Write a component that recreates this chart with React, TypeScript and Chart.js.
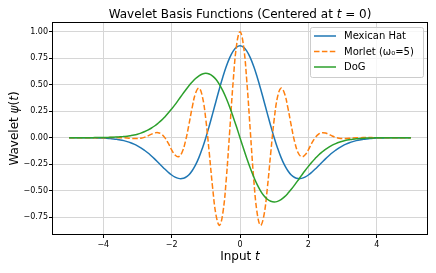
import React, { useEffect, useRef } from "react";
import { Chart, registerables } from "chart.js";

Chart.register(...registerables);

const tValues = [
  -5.0, -4.9, -4.8, -4.7, -4.6, -4.5, -4.4, -4.3, -4.2, -4.1,
  -4.0, -3.9, -3.8, -3.7, -3.6, -3.5, -3.4, -3.3, -3.2, -3.1,
  -3.0, -2.9, -2.8, -2.7, -2.6, -2.5, -2.4, -2.3, -2.2, -2.1,
  -2.0, -1.9, -1.8, -1.7, -1.6, -1.5, -1.4, -1.3, -1.2, -1.1,
  -1.0, -0.9, -0.8, -0.7, -0.6, -0.5, -0.4, -0.3, -0.2, -0.1,
  0.0,
  0.1, 0.2, 0.3, 0.4, 0.5, 0.6, 0.7, 0.8, 0.9, 1.0,
  1.1, 1.2, 1.3, 1.4, 1.5, 1.6, 1.7, 1.8, 1.9, 2.0,
  2.1, 2.2, 2.3, 2.4, 2.5, 2.6, 2.7, 2.8, 2.9, 3.0,
  3.1, 3.2, 3.3, 3.4, 3.5, 3.6, 3.7, 3.8, 3.9, 4.0,
  4.1, 4.2, 4.3, 4.4, 4.5, 4.6, 4.7, 4.8, 4.9, 5.0,
];

const mexicanHat = [
  0, 0, 0, 0, 0, -0.001, -0.001, -0.001, -0.002, -0.003,
  -0.004, -0.006, -0.009, -0.012, -0.016, -0.021, -0.028, -0.037, -0.048, -0.061,
  -0.077, -0.096, -0.118, -0.142, -0.170, -0.200, -0.232, -0.264, -0.296, -0.326,
  -0.352, -0.372, -0.384, -0.386, -0.376, -0.352, -0.312, -0.257, -0.186, -0.099,
  0, 0.110, 0.227, 0.346, 0.464, 0.574, 0.673, 0.755, 0.816, 0.854,
  0.867,
  0.854, 0.816, 0.755, 0.673, 0.574, 0.464, 0.346, 0.227, 0.110, 0,
  -0.099, -0.186, -0.257, -0.312, -0.352, -0.376, -0.386, -0.384, -0.372, -0.352,
  -0.326, -0.296, -0.264, -0.232, -0.200, -0.170, -0.142, -0.118, -0.096, -0.077,
  -0.061, -0.048, -0.037, -0.028, -0.021, -0.016, -0.012, -0.009, -0.006, -0.004,
  -0.003, -0.002, -0.001, -0.001, -0.001, 0, 0, 0, 0, 0,
];

const morlet = [
  0, 0, 0, 0, 0, 0, 0, 0, 0, 0,
  0, 0, 0.001, 0.001, 0.001, 0.000, -0.001, -0.003, -0.006, -0.008,
  -0.008, -0.005, 0.003, 0.016, 0.031, 0.044, 0.047, 0.034, 0.000, -0.052,
  -0.114, -0.164, -0.180, -0.142, -0.040, 0.113, 0.283, 0.420, 0.467, 0.387,
  0.172, -0.141, -0.475, -0.733, -0.827, -0.707, -0.384, 0.068, 0.530, 0.873,
  1.0,
  0.873, 0.530, 0.068, -0.384, -0.707, -0.827, -0.733, -0.475, -0.141, 0.172,
  0.387, 0.467, 0.420, 0.283, 0.113, -0.040, -0.142, -0.180, -0.164, -0.114,
  -0.052, 0.000, 0.034, 0.047, 0.044, 0.031, 0.016, 0.003, -0.005, -0.008,
  -0.008, -0.006, -0.003, -0.001, 0.000, 0.001, 0.001, 0.001, 0, 0,
  0, 0, 0, 0, 0, 0, 0, 0, 0, 0,
];

const dog = [
  0, 0, 0, 0, 0, 0, 0, 0, 0.001, 0.001,
  0.001, 0.002, 0.003, 0.004, 0.006, 0.008, 0.011, 0.014, 0.019, 0.025,
  0.033, 0.043, 0.056, 0.071, 0.089, 0.110, 0.135, 0.163, 0.196, 0.232,
  0.271, 0.312, 0.356, 0.401, 0.445, 0.487, 0.525, 0.558, 0.584, 0.601,
  0.607, 0.600, 0.581, 0.548, 0.501, 0.441, 0.369, 0.287, 0.196, 0.100,
  0,
  -0.100, -0.196, -0.287, -0.369, -0.441, -0.501, -0.548, -0.581, -0.600, -0.607,
  -0.601, -0.584, -0.558, -0.525, -0.487, -0.445, -0.401, -0.356, -0.312, -0.271,
  -0.232, -0.196, -0.163, -0.135, -0.110, -0.089, -0.071, -0.056, -0.043, -0.033,
  -0.025, -0.019, -0.014, -0.011, -0.008, -0.006, -0.004, -0.003, -0.002, -0.001,
  -0.001, -0.001, 0, 0, 0, 0, 0, 0, 0, 0,
];

const xTicks = [-4, -2, 0, 2, 4];
const yTicks = [-0.75, -0.5, -0.25, 0, 0.25, 0.5, 0.75, 1.0];

const seriesNames = ["Mexican Hat", "Morlet (ω₀=5)", "DoG"];
const seriesColors = ["#1f77b4", "#ff7f0e", "#2ca02c"];

const FONT = '"DejaVu Sans", sans-serif';

type Seg = [string, boolean];

function drawRich(ctx: CanvasRenderingContext2D, segs: Seg[], size: number) {
  // draws centered at (0,0), alphabetic baseline offset handled by caller
  let total = 0;
  const widths: number[] = [];
  for (const [txt, it] of segs) {
    ctx.font = `${it ? "oblique " : ""}${size}px ${FONT}`;
    const w = ctx.measureText(txt).width;
    widths.push(w);
    total += w;
  }
  let x = -total / 2;
  segs.forEach(([txt, it], i) => {
    ctx.font = `${it ? "oblique " : ""}${size}px ${FONT}`;
    ctx.fillText(txt, x, 0);
    x += widths[i];
  });
}

const decorPlugin = {
  id: "decor",
  afterDraw(chart: any) {
    const ctx: CanvasRenderingContext2D = chart.ctx;
    const a = chart.chartArea;
    ctx.save();
    // frame
    ctx.strokeStyle = "#000";
    ctx.lineWidth = 1;
    ctx.strokeRect(Math.round(a.left) + 0.5, Math.round(a.top) + 0.5, Math.round(a.right - a.left) - 1, Math.round(a.bottom - a.top) - 1);

    ctx.fillStyle = "#000";
    ctx.textAlign = "left";
    ctx.textBaseline = "alphabetic";
    const cx = (a.left + a.right) / 2;
    // title
    ctx.save();
    ctx.translate(cx, 18);
    drawRich(ctx, [["Wavelet Basis Functions (Centered at ", false], ["t", true], [" = 0)", false]], 12);
    ctx.restore();
    // x label
    ctx.save();
    ctx.translate(cx, 260);
    drawRich(ctx, [["Input ", false], ["t", true]], 12);
    ctx.restore();
    // y label
    ctx.save();
    ctx.translate(17.5, (a.top + a.bottom) / 2);
    ctx.rotate(-Math.PI / 2);
    drawRich(ctx, [["Wavelet ", false], ["ψ", true], ["(", false], ["t", true], [")", false]], 12);
    ctx.restore();

    // legend
    const lx = 310.5, ly = 27.5, lw = 113, lh = 50;
    ctx.beginPath();
    (ctx as any).roundRect(lx, ly, lw, lh, 2);
    ctx.fillStyle = "rgba(255,255,255,0.8)";
    ctx.fill();
    ctx.strokeStyle = "#cccccc";
    ctx.lineWidth = 1;
    ctx.stroke();
    const rowY = [36, 51.5, 67];
    seriesNames.forEach((name, i) => {
      ctx.beginPath();
      ctx.strokeStyle = seriesColors[i];
      ctx.lineWidth = 1.5;
      ctx.setLineDash(i === 1 ? [5.5, 2.4] : []);
      ctx.moveTo(314, rowY[i]);
      ctx.lineTo(336, rowY[i]);
      ctx.stroke();
      ctx.setLineDash([]);
      ctx.fillStyle = "#000";
      ctx.font = `10px ${FONT}`;
      ctx.textBaseline = "middle";
      ctx.fillText(name, 344, rowY[i] + 0.5);
    });
    ctx.restore();
  },
};

const fmt = (v: number, d: number) => (v < 0 ? "\u2212" : "") + Math.abs(v).toFixed(d);

export default function App() {
  const ref = useRef<HTMLCanvasElement>(null);
  useEffect(() => {
    document.body.style.margin = "0";
    if (!ref.current) return;
    const mk = (ys: number[]) => tValues.map((t, i) => ({ x: t, y: ys[i] }));
    const chart = new Chart(ref.current, {
      type: "line",
      data: {
        datasets: [
          { label: seriesNames[0], data: mk(mexicanHat), borderColor: seriesColors[0], borderWidth: 1.5, pointRadius: 0, tension: 0.4, order: 3 },
          { label: seriesNames[1], data: mk(morlet), borderColor: seriesColors[1], borderWidth: 1.5, pointRadius: 0, tension: 0.4, borderDash: [5.5, 2.4], order: 2 },
          { label: seriesNames[2], data: mk(dog), borderColor: seriesColors[2], borderWidth: 1.5, pointRadius: 0, tension: 0.4, order: 1 },
        ],
      },
      options: {
        animation: false,
        responsive: false,
        events: [],
        layout: { padding: { top: 22, right: 8, left: 0, bottom: 0 } },
        plugins: { legend: { display: false }, title: { display: false }, tooltip: { enabled: false } },
        scales: {
          x: {
            type: "linear",
            min: -5.5,
            max: 5.5,
            afterFit: (s: any) => { s.height = 38; },
            afterBuildTicks: (s: any) => { s.ticks = xTicks.map((v) => ({ value: v })); },
            grid: { color: "#d6d6d6", lineWidth: 1, tickColor: "#000", tickLength: 3 },
            border: { display: false },
            ticks: { color: "#000", font: { size: 8, family: FONT }, padding: 2, maxRotation: 0, callback: (v: any) => fmt(Number(v), 0) },
          },
          y: {
            type: "linear",
            min: -0.918,
            max: 1.091,
            afterFit: (s: any) => { s.width = 52; },
            afterBuildTicks: (s: any) => { s.ticks = yTicks.map((v) => ({ value: v })); },
            grid: { color: "#d6d6d6", lineWidth: 1, tickColor: "#000", tickLength: 3 },
            border: { display: false },
            ticks: { color: "#000", font: { size: 8, family: FONT }, padding: 1, callback: (v: any) => fmt(Number(v), 2) },
          },
        },
      },
      plugins: [decorPlugin],
    } as any);
    return () => chart.destroy();
  }, []);
  return <canvas ref={ref} width={436} height={273} style={{ display: "block" }} />;
}
